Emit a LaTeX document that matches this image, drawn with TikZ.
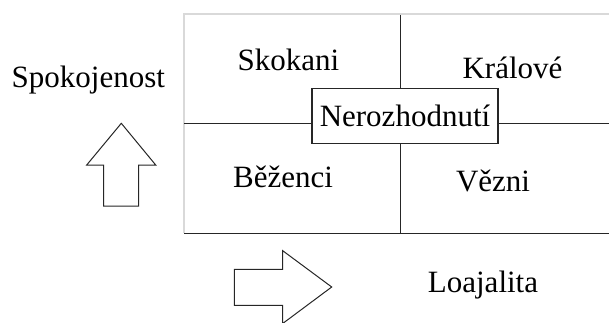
\documentclass[tikz,border=0pt]{standalone}
\usepackage{fontspec}
\setmainfont{Liberation Serif}
\begin{document}
\begin{tikzpicture}[x=1pt,y=-1pt,
  lbl/.style={font=\fontsize{31}{36}\selectfont, inner sep=0pt, anchor=base},
  gridline/.style={draw=black!85, line width=1.3pt},
  frameline/.style={draw=black!15, line width=1.5pt},
  arrowshape/.style={draw=black!85, line width=1pt, fill=white, line join=miter}]
\useasboundingbox (0,0) rectangle (609,323);
% frame
\draw[frameline] (184,233.3) -- (184,14) -- (609,14);
% grid
\coordinate (vt) at (400.3,15);
\coordinate (vb) at (400.3,233.3);
\coordinate (hl) at (184,123.3);
\coordinate (hr) at (609,123.3);
\coordinate (bl) at (184,233.3);
\coordinate (br) at (609,233.3);
\draw[gridline] (vt) -- (vb);
\draw[gridline] (hl) -- (hr);
\draw[gridline] (bl) -- (br);
% centre box
\node[draw=black!85, line width=1.3pt, fill=white, minimum width=186pt, minimum height=54.6pt, inner sep=0pt,
  font=\fontsize{31}{36}\selectfont] (nero) at (405,116) {Nerozhodnutí};
% quadrant labels
\node[lbl] (skok) at (288.5,71) {Skokani};
\node[lbl] (kral) at (512.5,79) {Králové};
\node[lbl] (bez) at (283,187.7) {Běženci};
\node[lbl] (vez) at (493,191.7) {Vězni};
\node[lbl] (spok) at (88.3,87.5) {Spokojenost};
\node[lbl] (loaj) at (483,292.7) {Loajalita};
% arrows
\draw[arrowshape] (121.3,123.3) -- (155.7,165) -- (138.7,165) -- (138.7,206) -- (103.7,206) -- (103.7,165) -- (86.7,165) -- cycle;
\draw[arrowshape] (331.7,287) -- (282.7,250.7) -- (282.7,269.3) -- (234.3,269.3) -- (234.3,305.3) -- (282.7,305.3) -- (282.7,323.5) -- cycle;
\end{tikzpicture}
\end{document}
